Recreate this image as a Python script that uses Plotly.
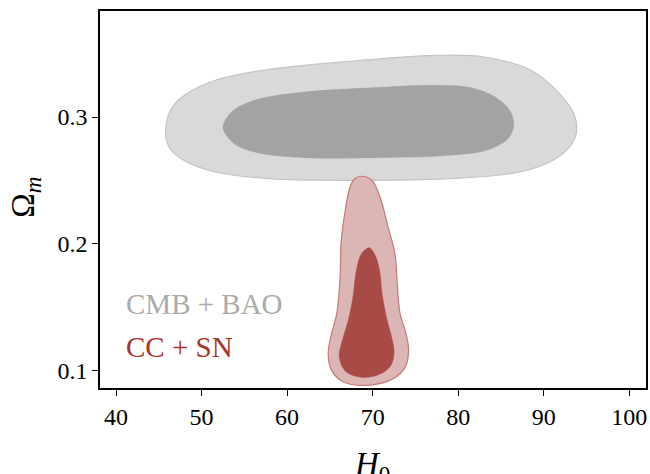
import plotly.graph_objects as go

# ---- data: contour outlines (H0, Omega_m) ----
cmb_outer_h0 = [45.8, 46.6, 48.3, 51.6, 57.1, 66.3, 77.6, 83.05, 88.5, 91.84, 93.5, 93.85, 93.3,
                91.4, 87.2, 78.85, 68.4, 57.9, 51.6, 47.9, 46.2]
cmb_outer_om = [0.2908, 0.3079, 0.3185, 0.3290, 0.3369, 0.3434, 0.3487, 0.3474, 0.3369, 0.3185,
                0.3027, 0.2895, 0.2790, 0.2671, 0.2566, 0.2513, 0.2500, 0.2513, 0.2566, 0.2658, 0.2763]

cmb_inner_h0 = [52.5, 53.5, 56.2, 62.1, 70.5, 76.8, 81.4, 84.3, 86.0, 86.5, 85.8, 83.5, 78.9,
                70.5, 62.1, 56.7, 54.1, 52.9]
cmb_inner_om = [0.2921, 0.3039, 0.3132, 0.3197, 0.3232, 0.3250, 0.3232, 0.3158, 0.3053, 0.2934,
                0.2829, 0.2742, 0.2697, 0.2679, 0.2679, 0.2716, 0.2776, 0.2855]

ccsn_outer_h0 = [68.7, 69.9, 70.86, 71.8, 72.6, 72.9, 73.2, 73.9, 74.2, 73.8, 72.4, 69.3, 66.6,
                 65.2, 64.8, 65.2, 65.8, 66.2, 66.3, 66.8, 67.35, 67.9]
ccsn_outer_om = [0.2532, 0.2500, 0.2368, 0.2131, 0.1921, 0.1657, 0.1447, 0.1289, 0.1157, 0.1025,
                 0.0934, 0.0881, 0.0907, 0.0999, 0.1131, 0.1289, 0.1447, 0.1736, 0.2000, 0.2263,
                 0.2447, 0.2513]

ccsn_inner_h0 = [69.6, 70.3, 70.8, 71.1, 71.6, 72.3, 72.5, 72.0, 70.5, 68.5, 66.8, 66.1, 66.4,
                 67.15, 67.7, 68.1, 68.7]
ccsn_inner_om = [0.1968, 0.1907, 0.1789, 0.1605, 0.1420, 0.1236, 0.1131, 0.1025, 0.0960, 0.0946,
                 0.0994, 0.1104, 0.1223, 0.1394, 0.1578, 0.1789, 0.1921]

x_ticks = [40, 50, 60, 70, 80, 90, 100]
y_ticks = [0.1, 0.2, 0.3]
y_tick_labels = ["0.1", "0.2", "0.3"]
labels = ["CMB + BAO", "CC + SN"]


def closed(a):
    return list(a) + [a[0]]


FONT = "Liberation Serif"
fig = go.Figure()

shapes = [
    (cmb_outer_h0, cmb_outer_om, "#d9d9d9", "#c4c4c4", 1.2),
    (cmb_inner_h0, cmb_inner_om, "#a3a3a3", "#a3a3a3", 0.5),
    (ccsn_outer_h0, ccsn_outer_om, "#dcb5b5", "#c47a78", 1.2),
    (ccsn_inner_h0, ccsn_inner_om, "#a84b46", "#a84b46", 0.5),
]
for xs, ys, fc, lc, lw in shapes:
    fig.add_trace(go.Scatter(
        x=closed(xs), y=closed(ys), mode="lines", fill="toself",
        fillcolor=fc, line=dict(color=lc, width=lw, shape="spline", smoothing=1.0),
        hoverinfo="skip", showlegend=False))

fig.add_annotation(x=0.044, y=0.222, xref="paper", yref="paper", text=labels[0],
                   showarrow=False, xanchor="left", yanchor="middle",
                   font=dict(family=FONT, size=29, color="#ababab"))
fig.add_annotation(x=0.044, y=0.108, xref="paper", yref="paper", text=labels[1],
                   showarrow=False, xanchor="left", yanchor="middle",
                   font=dict(family=FONT, size=29, color="#a8352c"))

fig.add_annotation(x=0.499, y=-0.148, xref="paper", yref="paper",
                   text="<i>H</i><sub>0</sub>", showarrow=False,
                   xanchor="center", yanchor="top",
                   font=dict(family=FONT, size=33, color="black"))
fig.add_annotation(x=-0.137, y=0.505, xref="paper", yref="paper",
                   text="Ω<sub><i>m</i></sub>", showarrow=False, textangle=-90,
                   xanchor="center", yanchor="middle",
                   font=dict(family=FONT, size=33, color="black"))

axis_common = dict(showgrid=False, zeroline=False, showline=True, mirror=True,
                   linecolor="black", linewidth=1.6, ticks="outside", ticklen=6,
                   tickwidth=1.4, tickcolor="black", automargin=False,
                   tickfont=dict(family=FONT, size=24, color="black"))
fig.update_xaxes(range=[38.13, 101.95], tickvals=x_ticks, **axis_common)
fig.update_yaxes(range=[0.086, 0.3837], tickvals=y_ticks, ticktext=y_tick_labels,
                 **axis_common)

fig.update_layout(width=650, height=474,
                  margin=dict(l=100, r=4, t=11, b=86, autoexpand=False),
                  plot_bgcolor="white", paper_bgcolor="white", showlegend=False)

fig.write_html("out.html", config={"displayModeBar": False},
               post_script="document.body.style.margin='0';"
                           "document.body.style.overflow='hidden';")
